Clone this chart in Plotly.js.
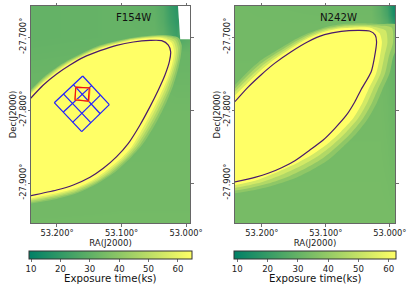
<!DOCTYPE html>
<html><head><meta charset="utf-8">
<script src="https://cdn.plot.ly/plotly-3.0.1.min.js"></script>
<style>html,body{margin:0;padding:0;background:#fff}</style></head>
<body><div id="chart" style="width:415px;height:291px"></div>
<script>
// --- tick labels ---
const raTickVals=[53.2,53.1,53.0];
const raTickText=['53.200°','53.100°','53.000°'];
const decTickVals=[-27.7,-27.8,-27.9];
const decTickText=['-27.700°','-27.800°','-27.900°'];
const filters=['F154W','N242W'];
const barTitle='Exposure time(ks)';

// --- F154W background exposure (ks) ---
const f154BgRa=[53.245,53.10,53.05,53.035,53.025,53.015,53.010,52.99];
const f154BgDec=[-27.96,-27.80,-27.72,-27.70,-27.68,-27.65];
const f154BgZ=[
 [34.5,34.5,34.5,34.5,34.5,34.5,34.5,34.5],
 [33.5,34,34,34,34,34,34,34],
 [31.5,32,32.5,32.5,32.5,32,32,32],
 [31,31.5,31.5,30,26,23,26,30],
 [31,31.5,31,28,23,20,20,20],
 [31,31.5,30,27,21,18,18,18]];
// --- N242W background exposure (ks) ---
const n242BgRa=[53.245,53.03,53.015,53.005,52.995,52.985];
const n242BgDec=[-27.96,-27.70,-27.685,-27.67,-27.655];
const n242BgZ=[
 [34,34,34,34,34,34],
 [33,33,33,32,30,28],
 [33,33,31,28,22,18],
 [33,32.5,29,24,15,11],
 [33,32,28,22,13,10]];

// --- exposure outlines: F154W ---
const f154Level=[40,46,52,58,64.8];
const f154OuterRa=[53.2444,53.2212,53.2005,53.1798,53.1333,53.0817,53.0351,53.0119,53.0067,53.0083,53.0119,53.0196,53.0300,53.0455,53.0661,53.0842,53.1127,53.1385,53.1695,53.2005,53.2444];
const f154OuterDec=[-27.7758,-27.7553,-27.7416,-27.7306,-27.7114,-27.7009,-27.6973,-27.7009,-27.7110,-27.7269,-27.7429,-27.7658,-27.7886,-27.8160,-27.8457,-27.8639,-27.8868,-27.9014,-27.9142,-27.9219,-27.9288];
const f154BandARa=[53.2444,53.2212,53.2005,53.1798,53.1333,53.0817,53.0356,53.0145,53.0096,53.0114,53.0160,53.0242,53.0354,53.0509,53.0708,53.0886,53.1158,53.1403,53.1700,53.2005,53.2444];
const f154BandADec=[-27.7771,-27.7571,-27.7430,-27.7318,-27.7125,-27.7016,-27.6982,-27.7025,-27.7132,-27.7292,-27.7464,-27.7688,-27.7916,-27.8182,-27.8468,-27.8648,-27.8863,-27.9002,-27.9124,-27.9198,-27.9270];
const f154MidRa=[53.2444,53.2212,53.2005,53.1798,53.1333,53.0817,53.0362,53.0171,53.0124,53.0145,53.0202,53.0289,53.0408,53.0563,53.0755,53.0930,53.1189,53.1421,53.1705,53.2005,53.2444];
const f154MidDec=[-27.7785,-27.7589,-27.7443,-27.7329,-27.7137,-27.7023,-27.6991,-27.7041,-27.7155,-27.7315,-27.7498,-27.7717,-27.7945,-27.8205,-27.8479,-27.8658,-27.8858,-27.8991,-27.9105,-27.9178,-27.9251];
const f154BandBRa=[53.2444,53.2212,53.2005,53.1798,53.1333,53.0817,53.0370,53.0196,53.0155,53.0178,53.0243,53.0338,53.0462,53.0618,53.0798,53.0976,53.1222,53.1442,53.1713,53.2005,53.2444];
const f154BandBDec=[-27.7799,-27.7605,-27.7459,-27.7340,-27.7148,-27.7032,-27.7002,-27.7060,-27.7178,-27.7338,-27.7532,-27.7744,-27.7972,-27.8228,-27.8490,-27.8667,-27.8852,-27.8980,-27.9089,-27.9160,-27.9235];
const f154InnerRa=[53.2444,53.2212,53.2005,53.1798,53.1333,53.0817,53.0377,53.0222,53.0186,53.0212,53.0284,53.0388,53.0517,53.0672,53.0842,53.1023,53.1256,53.1463,53.1721,53.2005,53.2444];
const f154InnerDec=[-27.7813,-27.7621,-27.7475,-27.7352,-27.7160,-27.7041,-27.7014,-27.7078,-27.7201,-27.7361,-27.7566,-27.7772,-27.8000,-27.8251,-27.8502,-27.8676,-27.8845,-27.8968,-27.9073,-27.9142,-27.9219];
const f154ContourRa=[53.2408,53.2212,53.2005,53.1798,53.1592,53.1333,53.1075,53.0817,53.0558,53.0377,53.0274,53.0238,53.0258,53.0326,53.0429,53.0558,53.0713,53.0894,53.1075,53.1282,53.1488,53.1747,53.2005,53.2408];
const f154ContourDec=[-27.7840,-27.7658,-27.7507,-27.7384,-27.7279,-27.7187,-27.7114,-27.7068,-27.7046,-27.7050,-27.7110,-27.7201,-27.7338,-27.7521,-27.7726,-27.7954,-27.8205,-27.8457,-27.8639,-27.8799,-27.8922,-27.9027,-27.9096,-27.9174];

// --- exposure outlines: N242W ---
const n242Level=[39,46,53,62.4];
const n242OuterRa=[53.2453,53.2219,53.2010,53.1802,53.1542,53.1281,53.1021,53.0760,53.0448,53.0187,52.9875,52.9865,52.9948,53.0005,53.0120,53.0208,53.0339,53.0520,53.0730,53.0964,53.1223,53.1484,53.1797,53.2109,53.2500];
const n242OuterDec=[-27.7689,-27.7475,-27.7315,-27.7201,-27.7064,-27.6950,-27.6868,-27.6826,-27.6813,-27.6822,-27.6836,-27.7087,-27.7269,-27.7498,-27.7726,-27.7908,-27.8114,-27.8319,-27.8503,-27.8685,-27.8822,-27.8936,-27.9027,-27.9096,-27.9151];
const n242BandARa=[53.2453,53.2219,53.2010,53.1802,53.1542,53.1281,53.1021,53.0760,53.0465,53.0222,52.9970,52.9952,53.0017,53.0075,53.0193,53.0283,53.0417,53.0602,53.0808,53.1042,53.1301,53.1571,53.1901,53.2239,53.2500];
const n242BandADec=[-27.7735,-27.7525,-27.7361,-27.7236,-27.7094,-27.6973,-27.6888,-27.6844,-27.6831,-27.6840,-27.6874,-27.7079,-27.7269,-27.7498,-27.7726,-27.7908,-27.8114,-27.8312,-27.8487,-27.8658,-27.8791,-27.8906,-27.9007,-27.9078,-27.9115];
const n242BandBRa=[53.2453,53.2219,53.2010,53.1802,53.1542,53.1281,53.1021,53.0760,53.0483,53.0257,53.0066,53.0038,53.0087,53.0144,53.0266,53.0358,53.0495,53.0684,53.0886,53.1120,53.1380,53.1658,53.2005,53.2370,53.2500];
const n242BandBDec=[-27.7780,-27.7576,-27.7406,-27.7271,-27.7125,-27.6995,-27.6907,-27.6863,-27.6850,-27.6859,-27.6912,-27.7072,-27.7269,-27.7498,-27.7726,-27.7908,-27.8114,-27.8304,-27.8472,-27.8630,-27.8761,-27.8875,-27.8988,-27.9059,-27.9078];
const n242InnerRa=[53.2453,53.2219,53.2010,53.1802,53.1542,53.1281,53.1021,53.0760,53.0500,53.0292,53.0161,53.0125,53.0156,53.0214,53.0339,53.0433,53.0573,53.0766,53.0964,53.1198,53.1458,53.1745,53.2109,53.2500];
const n242InnerDec=[-27.7826,-27.7626,-27.7452,-27.7306,-27.7155,-27.7018,-27.6927,-27.6881,-27.6868,-27.6877,-27.6950,-27.7064,-27.7269,-27.7498,-27.7726,-27.7908,-27.8114,-27.8297,-27.8456,-27.8603,-27.8730,-27.8845,-27.8968,-27.9041];
const n242ContourRa=[53.2422,53.2219,53.2010,53.1802,53.1542,53.1281,53.1021,53.0760,53.0500,53.0318,53.0229,53.0208,53.0239,53.0292,53.0453,53.0547,53.0677,53.0859,53.1042,53.1250,53.1484,53.1692,53.1902,53.2109,53.2422];
const n242ContourDec=[-27.7886,-27.7689,-27.7516,-27.7361,-27.7201,-27.7064,-27.6968,-27.6922,-27.6909,-27.6918,-27.6973,-27.7064,-27.7270,-27.7475,-27.7726,-27.7886,-27.8068,-27.8251,-27.8411,-27.8548,-27.8695,-27.8790,-27.8867,-27.8922,-27.8986];

// --- white gap in F154W ---
const gapRa=[53.0130,52.9800,52.9800,53.0090];
const gapDec=[-27.6500,-27.6500,-27.7030,-27.7030];

// --- footprints on F154W ---
const gridRa=[53.1602,53.2042,null,53.1464,53.1901,null,53.1327,53.1758,null,53.1189,53.1617,null,
 53.1602,53.1189,null,53.1743,53.1330,null,53.1901,53.1476,null,53.2042,53.1617];
const gridDec=[-27.7534,-27.7900,null,-27.7666,-27.8027,null,-27.7796,-27.8170,null,-27.7927,-27.8297,null,
 -27.7534,-27.7927,null,-27.7656,-27.8051,null,-27.7778,-27.8174,null,-27.7900,-27.8297];
const redRa=[53.1710,53.1499,53.1515,53.1721,53.1710];
const redDec=[-27.7689,-27.7695,-27.7877,-27.7863,-27.7689];
const orangeRa=[53.1705,53.1488,53.1504,53.1721,53.1705];
const orangeDec=[-27.7678,-27.7705,-27.7884,-27.7849,-27.7678];

// --- colour ranges ---
const f154Range=[9.3,64.8];
const n242Range=[8.9,62.4];

const W=415,H=291;
const summer=[[0,'rgb(0,128,102)'],[1,'rgb(255,255,102)']];
const col=(v,r)=>{const t=Math.max(0,Math.min(1,(v-r[0])/(r[1]-r[0])));return `rgb(${Math.round(255*t)},${Math.round(128+127*t)},102)`;};
const font={family:'DejaVu Sans, sans-serif',color:'#222'};

function heat(x,y,z,r,xa,ya,cbx,cblen){return {type:'heatmap',x,y,z,xaxis:xa,yaxis:ya,zmin:r[0],zmax:r[1],zsmooth:'best',colorscale:summer,hoverinfo:'skip',
  colorbar:{orientation:'h',lenmode:'pixels',len:cblen,thicknessmode:'pixels',thickness:8,x:cbx/W,xanchor:'left',y:(H-251)/H,yanchor:'top',xpad:0,ypad:0,
    outlinewidth:1,outlinecolor:'#333',tick0:10,dtick:10,ticks:'outside',ticklen:2.5,tickwidth:0.7,tickcolor:'#333',tickfont:{...font,size:8.6}}};}
function band(x,y,v,r,xa,ya){return {type:'scatter',mode:'lines',x,y,xaxis:xa,yaxis:ya,fill:'toself',fillcolor:col(v,r),line:{width:0,shape:'spline',smoothing:0.7},hoverinfo:'skip',showlegend:false};}
function line(x,y,c,w,xa,ya,spline){return {type:'scatter',mode:'lines',x,y,xaxis:xa,yaxis:ya,line:{color:c,width:w,shape:spline?'spline':'linear',smoothing:0.7},hoverinfo:'skip',showlegend:false};}

const traces=[
 heat(f154BgRa,f154BgDec,f154BgZ,f154Range,'x','y',29,163),
 band(f154OuterRa,f154OuterDec,f154Level[0],f154Range,'x','y'),
 band(f154BandARa,f154BandADec,f154Level[1],f154Range,'x','y'),
 band(f154MidRa,f154MidDec,f154Level[2],f154Range,'x','y'),
 band(f154BandBRa,f154BandBDec,f154Level[3],f154Range,'x','y'),
 band(f154InnerRa,f154InnerDec,f154Level[4],f154Range,'x','y'),
 line(f154ContourRa,f154ContourDec,'#4a1a6b',1.2,'x','y',true),
 {type:'scatter',mode:'lines',x:gapRa,y:gapDec,xaxis:'x',yaxis:'y',fill:'toself',fillcolor:'#fff',line:{width:0},hoverinfo:'skip',showlegend:false},
 line(gridRa,gridDec,'#1f1fff',1.2,'x','y',false),
 line(orangeRa,orangeDec,'#ff8a20',1.2,'x','y',false),
 line(redRa,redDec,'#f01414',1.2,'x','y',false),
 heat(n242BgRa,n242BgDec,n242BgZ,n242Range,'x2','y2',234,162),
 band(n242OuterRa,n242OuterDec,n242Level[0],n242Range,'x2','y2'),
 band(n242BandARa,n242BandADec,n242Level[1],n242Range,'x2','y2'),
 band(n242BandBRa,n242BandBDec,n242Level[2],n242Range,'x2','y2'),
 band(n242InnerRa,n242InnerDec,n242Level[3],n242Range,'x2','y2'),
 line(n242ContourRa,n242ContourDec,'#4a1a6b',1.2,'x2','y2',true)
];
const frame={showgrid:false,zeroline:false,showline:true,linecolor:'#666',linewidth:1,mirror:'ticks',ticks:'outside',ticklen:2.5,tickwidth:0.7,tickcolor:'#333',tickfont:{...font,size:8.3}};
const xax=(dom,range,anchor)=>({...frame,domain:dom,range,anchor,tickmode:'array',tickvals:raTickVals,ticktext:raTickText,
   title:{text:'RA(J2000)',font:{...font,size:8.6},standoff:1}});
const yax=(range,anchor)=>({...frame,domain:[1-223/H,1-6/H],range,anchor,tickmode:'array',tickvals:decTickVals,ticktext:decTickText,tickangle:-90,ticklabelstandoff:-2,
   title:{text:'Dec(J2000)',font:{...font,size:8.6},standoff:0}});
const decRange=[-27.9548,-27.6575];
const note=(x,y,text,size)=>({xref:'paper',yref:'paper',x:x/W,y:1-y/H,text,showarrow:false,font:{...font,size,color:'#111'},xanchor:'center',yanchor:'middle'});
const layout={width:W,height:H,margin:{l:0,r:0,t:0,b:0,autoexpand:false},paper_bgcolor:'#fff',plot_bgcolor:'#fff',showlegend:false,font,
 xaxis:xax([31/W,190/W],[53.2403,52.9938],'y'),yaxis:yax(decRange,'x'),
 xaxis2:xax([235/W,395/W],[53.242,52.992],'y2'),yaxis2:yax(decRange,'x2'),
 annotations:[note(133,17,filters[0],10.2),note(338,17,filters[1],10.2),note(110.5,278,barTitle,10.2),note(315,278,barTitle,10.2)]};
Plotly.newPlot('chart',traces,layout,{displayModeBar:false,staticPlot:true});
</script></body></html>
